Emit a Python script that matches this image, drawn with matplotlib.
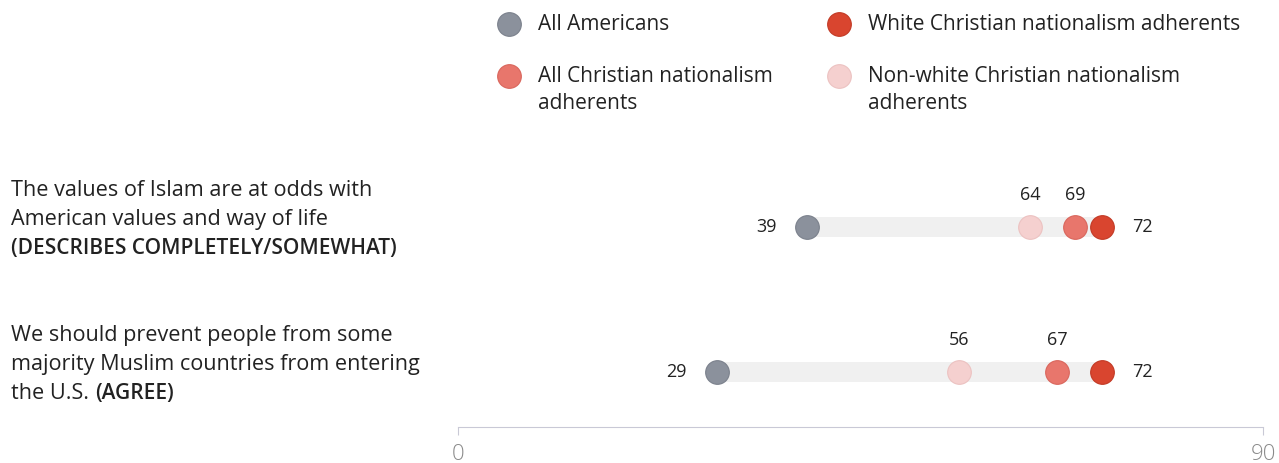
import numpy as np
import matplotlib
matplotlib.use('Agg')
import matplotlib.pyplot as plt

plt.rcParams['font.family'] = ['Open Sans', 'DejaVu Sans']

# data
series = ['All Americans', 'All Christian nationalism\nadherents',
          'White Christian nationalism adherents', 'Non-white Christian nationalism\nadherents']
colors = ['#8b919c', '#e8766c', '#d9452f', '#f5d0cf']
edges = ['#7b818c', '#d9665c', '#c23a25', '#ecc2c1']

statements = [
    ['The values of Islam are at odds with', 'American values and way of life'],
    ['We should prevent people from some', 'majority Muslim countries from entering'],
]
bold_tail = [('', '(DESCRIBES COMPLETELY/SOMEWHAT)'), ('the U.S. ', '(AGREE)')]

all_americans = [39, 29]
all_cn = [69, 67]
white_cn = [72, 72]
nonwhite_cn = [64, 56]

rows = [1, 0]

W, H = 1279, 463
fig = plt.figure(figsize=(W / 100, H / 100), dpi=100)
ax = fig.add_axes([458 / W, 1 - 427 / H, (1263 - 458) / W, 427 / H])
ax.set_xlim(0, 90)
ax.set_ylim(-0.379, 2.566)

for i, y in enumerate(rows):
    vals = [all_americans[i], all_cn[i], white_cn[i], nonwhite_cn[i]]
    lo, hi = min(vals), max(vals)
    ax.barh(y, hi - lo, left=lo, height=0.14, color='#f0f0f0', zorder=1)
    for v, c, e in zip(vals, colors, edges):
        ax.scatter(v, y, s=290, color=c, edgecolor=e, linewidth=0.8, zorder=3)
        if v == lo:
            ax.annotate(str(v), (v, y), xytext=(-22, 0), textcoords='offset points',
                        ha='right', va='center', fontsize=13, color='#222222')
        elif v == hi:
            ax.annotate(str(v), (v, y), xytext=(22, 0), textcoords='offset points',
                        ha='left', va='center', fontsize=13, color='#222222')
        else:
            ax.annotate(str(v), (v, y), xytext=(0, 23), textcoords='offset points',
                        ha='center', va='center', fontsize=13, color='#222222')

for s in ['top', 'right', 'left']:
    ax.spines[s].set_visible(False)
ax.spines['bottom'].set_color('#c9c9d6')
ax.set_yticks([])
ax.set_xticks([0, 90])
ax.tick_params(axis='x', length=6, color='#c9c9d6', labelsize=16,
               labelcolor='#8a8a8a', pad=6)
for t in ax.get_xticklabels():
    t.set_fontweight('light')

# overlay in pixel coords for legend and row labels
lay = fig.add_axes([0, 0, 1, 1])
lay.set_xlim(0, W)
lay.set_ylim(H, 0)
lay.axis('off')

leg_pos = [(509, 24), (509, 76), (839, 24), (839, 76)]
for (x, y), lab, c, e in zip(leg_pos, series, colors, edges):
    lay.scatter(x, y, s=290, color=c, edgecolor=e, linewidth=0.8)
    lay.text(x + 29, y - 10, lab, ha='left', va='top', fontsize=15,
             color='#222222', linespacing=1.4)

for i, y in enumerate(rows):
    py = H - ax.transData.transform((0, y))[1]
    mid = py - 8
    for k, ln in enumerate(statements[i]):
        lay.text(11, mid + 29 * (k - 1), ln, ha='left', va='center',
                 fontsize=15.6, color='#222222')
    reg, bld = bold_tail[i]
    yy = mid + 29
    if reg:
        t = lay.text(11, yy, reg, ha='left', va='center', fontsize=15.6, color='#222222')
        lay.annotate(bld, xy=(1, 0), xycoords=t, ha='left', va='bottom',
                     fontsize=15, fontweight='semibold', color='#222222')
    else:
        lay.text(11, yy, bld, ha='left', va='center', fontsize=15,
                 fontweight='semibold', color='#222222')

fig.savefig('out.png', dpi=100)
